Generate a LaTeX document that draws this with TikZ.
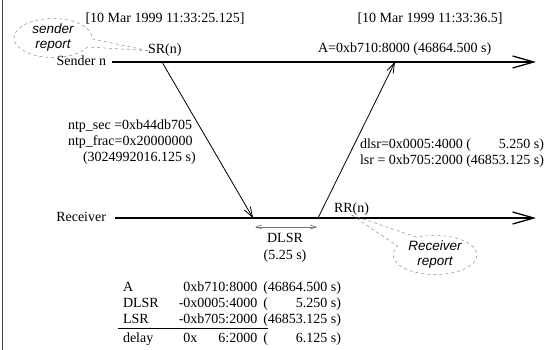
\documentclass[tikz,border=0pt]{standalone}
\usepackage{fontspec}
\setmainfont{Liberation Serif}
\newfontfamily\bubblefont{Liberation Sans}
\usetikzlibrary{shapes.callouts,arrows.meta}
\begin{document}
\begin{tikzpicture}[x=1pt,y=-1pt,
  every node/.style={inner sep=0pt,outer sep=0pt,font=\fontsize{14}{16}\selectfont},
  lbl/.style={anchor=base west},
  timeline/.style={line width=1.8pt,-{Straight Barb[length=21pt,width=12pt,line width=1.3pt]}},
  msg/.style={line width=0.8pt,-{Straight Barb[length=10pt,width=7pt,line width=0.8pt]}},
  span/.style={line width=0.6pt,draw=black!55,{Straight Barb[length=6pt,width=4pt]}-{Straight Barb[length=6pt,width=4pt]}},
  bubble/.style={ellipse callout,draw=black!45,dashed,line width=0.5pt,align=center,
    font=\bubblefont\itshape\fontsize{13.5}{15}\selectfont},
]
\useasboundingbox (0,0) rectangle (560,350);
\draw[line width=0.8pt,black!75] (2.7,0) -- (2.7,350);

% time stamps
\node[anchor=base] (ts1) at (165,23) {[10 Mar 1999 11:33:25.125]};
\node[anchor=base] (ts2) at (430,23) {[10 Mar 1999 11:33:36.5]};

% sender side
\node[anchor=base east] (sender) at (106,65.5) {Sender n};
\coordinate (s0) at (112,62);
\coordinate (s1) at (536,62);
\node[lbl] (sr) at (148,54) {SR(n)};
\node[lbl] (a) at (318,52.5) {A=0xb710:8000 (46864.500 s)};
\coordinate (srpt) at (162,62);
\coordinate (apt) at (395,62);

% receiver side
\node[anchor=base east] (receiver) at (106,221.5) {Receiver};
\coordinate (r0) at (115,218);
\coordinate (r1) at (536,218);
\node[lbl] (rr) at (334,212) {RR(n)};
\coordinate (rcvpt) at (253,218);
\coordinate (rrpt) at (318,218);

% time lines
\draw[timeline] (s0) -- (s1);
\draw[timeline] (r0) -- (r1);

% messages
\draw[msg] (srpt) -- (rcvpt);
\draw[msg] (rrpt) -- (apt);

% message contents
\node[lbl] (ntp) at (68,129.5) {\begin{tabular}[t]{@{}l@{}}
ntp\_sec =0xb44db705\\
ntp\_frac=0x20000000\\
\hspace{15pt}(3024992016.125 s)
\end{tabular}};
\node[lbl] (rrc) at (360,148.5) {\begin{tabular}[t]{@{}l@{}r@{}}
dlsr=0x0005:4000 ( & 5.250 s)\\
\multicolumn{2}{@{}l@{}}{lsr = 0xb705:2000 (46853.125 s)}
\end{tabular}};

% DLSR span
\coordinate (d0) at (255,227);
\coordinate (d1) at (317,227);
\draw[span] (d0) -- (d1);
\node[anchor=base] (dlsr) at (285,243) {DLSR};
\node[anchor=base] (dlsrv) at (285,259) {(5.25 s)};

% call-outs
\node[bubble,minimum width=78pt,minimum height=38pt,callout pointer arc=25,
  callout absolute pointer={(sr.west)}] (sb) at (53,38) {sender\\report};
\node[bubble,minimum width=84pt,minimum height=38pt,callout pointer arc=38,
  callout absolute pointer={(rr.south)}] (rb) at (435,255) {Receiver\\report};

% calculation table
\node[anchor=base west] (tab) at (118,291) {\begin{tabular}[t]{@{\hspace{5pt}}l@{\hspace{20pt}}r@{\hspace{6pt}}l@{}r@{}}
A & 0xb710:8000 & ( & 46864.500 s)\\
DLSR & -0x0005:4000 & ( & 5.250 s)\\
LSR & -0xb705:2000 & ( & 46853.125 s)\\ \cline{1-3}
\rule{0pt}{15pt}delay & \phantom{-}0x\hfill 6:2000 & ( & 6.125 s)
\end{tabular}};
\end{tikzpicture}
\end{document}
